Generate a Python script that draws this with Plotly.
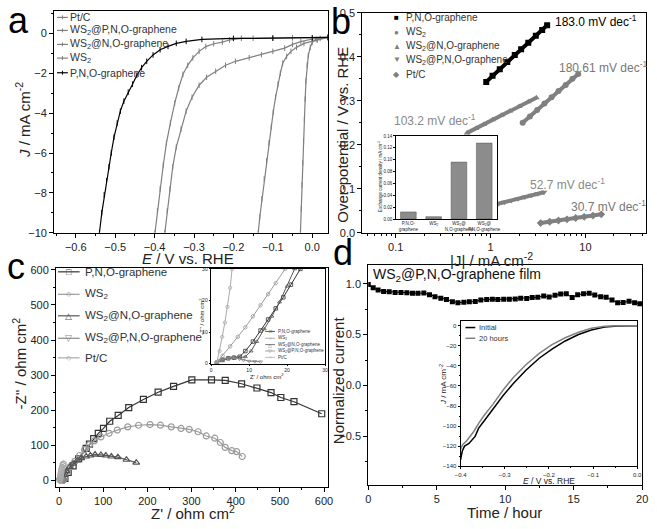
import plotly.graph_objects as go

W, H = 657, 529
FONT = "Liberation Sans, Arial, sans-serif"
GRAY = "#7f7f7f"

# ---------------- Panel a : LSV curves ----------------
a_names = ["Pt/C", "WS<sub>2</sub>@P,N,O-graphene", "WS<sub>2</sub>@N,O-graphene",
           "WS<sub>2</sub>", "P,N,O-graphene"]
a_ptc_E = [0.04, 0.02, 0.01, 0.0, -0.005, -0.01, -0.013, -0.016, -0.018, -0.02,
           -0.022, -0.024, -0.026, -0.028, -0.03]
a_ptc_J = [-0.2, -0.25, -0.3, -0.45, -0.7, -1.1, -1.6, -2.4, -3.3, -4.3,
           -5.4, -6.5, -7.6, -8.8, -10]
a_wpno_E = [0.04, 0.013, -0.021, -0.04, -0.054, -0.065, -0.075, -0.081, -0.087,
            -0.093, -0.099, -0.104, -0.11, -0.116, -0.122, -0.128, -0.133, -0.137]
a_wpno_J = [-0.2, -0.33, -0.5, -0.7, -0.9, -1.15, -1.5, -2.0, -2.55,
            -3.2, -3.95, -4.7, -5.5, -6.4, -7.3, -8.3, -9.2, -10]
a_wno_E = [0.04, -0.05, -0.1, -0.15, -0.18, -0.21, -0.228, -0.25, -0.27, -0.287,
           -0.303, -0.316, -0.328, -0.339, -0.349, -0.36, -0.37, -0.378, -0.386,
           -0.393, -0.399]
a_wno_J = [-0.2, -0.22, -0.23, -0.24, -0.25, -0.33, -0.44, -0.52, -0.66, -0.9,
           -1.23, -1.6, -2.05, -2.75, -3.5, -4.5, -5.5, -6.6, -7.8, -8.9, -10]
a_ws2_E = [0.04, 0.0, -0.029, -0.05, -0.07, -0.1, -0.129, -0.16, -0.195, -0.22,
           -0.245, -0.268, -0.287, -0.305, -0.32, -0.333, -0.345, -0.354, -0.361,
           -0.368, -0.374]
a_ws2_J = [-0.2, -0.28, -0.41, -0.55, -0.74, -0.9, -1.07, -1.22, -1.4, -1.6,
           -1.9, -2.2, -2.6, -3.2, -3.9, -4.8, -5.7, -6.7, -7.8, -8.9, -10]
a_pno_E = [0.04, 0.0, -0.1, -0.2, -0.28, -0.32, -0.345, -0.366, -0.386, -0.404,
           -0.42, -0.433, -0.445, -0.456, -0.467, -0.478, -0.487, -0.495, -0.503,
           -0.51, -0.516, -0.522, -0.528, -0.534, -0.54]
a_pno_J = [-0.2, -0.22, -0.24, -0.25, -0.3, -0.4, -0.5, -0.65, -0.82, -1.08,
           -1.4, -1.72, -2.1, -2.55, -2.95, -3.4, -3.9, -4.5, -5.2,
           -6.0, -6.7, -7.4, -8.1, -9.0, -10]

# ---------------- Panel b : Tafel plots ----------------
b_names = ["P,N,O-graphene", "WS<sub>2</sub>", "WS<sub>2</sub>@N,O-graphene",
           "WS<sub>2</sub>@P,N,O-graphene", "Pt/C"]
b_pno_J = [0.9, 1.05, 1.25, 1.5, 1.8, 2.1, 2.5, 3.0, 3.5, 3.95]
b_pno_V = [0.343, 0.357, 0.372, 0.388, 0.404, 0.417, 0.432, 0.448, 0.461, 0.472]
b_ws2_J = [2.18, 2.6, 3.1, 3.7, 4.4, 5.2, 6.2, 7.3, 8.4]
b_ws2_V = [0.25, 0.2645, 0.279, 0.294, 0.308, 0.322, 0.336, 0.350, 0.361]
b_wno_J = [0.565, 0.7, 0.85, 1.05, 1.3, 1.6, 2.0, 2.5, 3.04]
b_wno_V = [0.227, 0.237, 0.246, 0.257, 0.267, 0.277, 0.287, 0.298, 0.307]
b_wpno_J = [1.2, 1.4, 1.65, 1.95, 2.3, 2.7, 3.15, 3.65]
b_wpno_V = [0.066, 0.0696, 0.0735, 0.0774, 0.0813, 0.085, 0.0886, 0.092]
b_ptc_J = [3.37, 4.2, 5.2, 6.4, 7.9, 9.7, 12, 14.7]
b_ptc_V = [0.022, 0.025, 0.0278, 0.0306, 0.0335, 0.0362, 0.0391, 0.0418]
b_slopes = ["183.0", "180.61", "103.2", "52.7", "30.7"]
# inset: exchange current density
bi_cats = ["P,N,O-<br>graphene", "WS<sub>2</sub>", "WS<sub>2</sub>@<br>N,O-graphene",
           "WS<sub>2</sub>@<br>P,N,O-graphene"]
bi_vals = [0.012, 0.004, 0.096, 0.128]

# ---------------- Panel c : Nyquist plots ----------------
c_names = ["P,N,O-graphene", "WS<sub>2</sub>", "WS<sub>2</sub>@N,O-graphene",
           "WS<sub>2</sub>@P,N,O-graphene", "Pt/C"]
c_pno_re = [13.3, 20.7, 31.9, 44.4, 61.5, 68.9, 78.5, 88.9, 100.7, 114.8, 134, 157.8,
            191.1, 224.4, 259.3, 300.7, 345.2, 376.3, 413.3, 448.1, 480, 502.2, 531.9, 594.8]
c_pno_im = [5.6, 22.3, 40.8, 61.4, 91, 103.3, 119, 134, 147.9, 168.3, 185, 207.4,
            230.5, 251.2, 267.9, 286.4, 286.4, 284.7, 275.2, 263.2, 250.1, 236.1, 224.1, 189.8]
c_ws2_re = [13.3, 17, 24.4, 35.6, 46.7, 57.8, 68.9, 80, 94.8, 113.3, 131.9, 155.6, 180,
            206, 229.6, 254, 276.3, 294.8, 314.8, 333.3, 352.6, 365.2, 376.3, 391.1, 402.2, 414.8]
c_ws2_im = [10, 24, 38, 53.9, 70.6, 87.4, 101.3, 112.5, 123.6, 134, 143.2, 152.4, 157,
            159, 157.1, 152.4, 147.9, 145.1, 138.4, 126.4, 120, 107.7, 93.8, 84.6, 81.8, 67.8]
c_wno_re = [9.6, 11.9, 17, 24.4, 31.9, 41.5, 50.4, 61.5, 71.1, 81.5, 94.8, 105.9,
            118.5, 133.3, 152.6, 174.8]
c_wno_im = [3.6, 14.8, 26, 38, 47.4, 56.7, 63.1, 67.8, 70.6, 73.4, 72.5, 70.6,
            67.8, 66, 58.6, 50.2]
c_wpno_re = [1.5, 2.5, 3.5, 4.5, 5.5, 6.5, 7.5, 8.5, 10, 11.5, 13]
c_wpno_im = [0.2, 1.0, 1.5, 1.8, 1.9, 1.8, 1.5, 1.1, 0.8, 0.7, 0.6]
c_ptc_re = [1.5, 2.2, 2.9, 3.6, 4.3, 5.0, 5.5, 7.0, 8.5, 10.0]
c_ptc_im = [0.3, 4.0, 8.5, 13.0, 18.0, 24.0, 30.0, 37.0, 43.0, 47.0]
# inset (high-frequency region)
ci_pno_re = [1.5, 3, 4.5, 6, 7.5, 9, 11, 13, 15, 17, 19, 21, 23.5]
ci_pno_im = [0.3, 1.2, 1.7, 1.9, 2.2, 4, 7, 10.5, 14, 17.5, 21, 25, 30]
ci_ws2_re = [1.5, 3, 5, 7, 9, 11, 13, 15, 17, 19.5]
ci_ws2_im = [0.5, 2.5, 5.5, 8.5, 11.5, 15, 18.5, 22, 25.5, 30]
ci_wno_re = [1.5, 3, 4.5, 6, 7.5, 9, 10.5, 12, 14, 16, 18, 20, 22]
ci_wno_im = [0.3, 1.3, 1.8, 2.0, 1.9, 2.2, 4, 7, 11, 15, 19.5, 24.5, 30]

# ---------------- Panel d : stability ----------------
d_t = [0, 0.36, 0.72, 1.12, 1.53, 1.96, 2.39, 2.82, 3.23, 3.63, 4.06, 4.47, 4.87, 5.30,
       5.71, 6.14, 6.55, 6.98, 7.38, 7.81, 8.22, 8.65, 9.06, 9.46, 9.89, 10.3, 10.73,
       11.13, 11.57, 11.97, 12.38, 12.81, 13.21, 13.64, 14.05, 14.46, 14.89, 15.29,
       15.72, 16.13, 16.54, 16.97, 17.37, 17.8, 18.21, 18.61, 19.04, 19.45, 19.83]
d_i = [0.993, 0.961, 0.939, 0.926, 0.923, 0.916, 0.916, 0.913, 0.907, 0.907, 0.910,
       0.894, 0.874, 0.858, 0.846, 0.823, 0.813, 0.820, 0.823, 0.826, 0.842, 0.846,
       0.849, 0.846, 0.849, 0.849, 0.852, 0.858, 0.855, 0.865, 0.868, 0.881, 0.871,
       0.887, 0.900, 0.903, 0.865, 0.894, 0.903, 0.907, 0.890, 0.874, 0.868, 0.842,
       0.813, 0.817, 0.829, 0.813, 0.804]
di_init_E = [-0.4, -0.396, -0.391, -0.381, -0.367, -0.359, -0.348, -0.326, -0.304, -0.281,
             -0.252, -0.222, -0.193, -0.163, -0.133, -0.104, -0.074, -0.044, 0.0]
di_init_J = [-133.5, -124.8, -119.9, -117.3, -110.2, -102, -95.6, -82.6, -69.7, -57.7,
             -44.4, -32.4, -23.3, -15.2, -8.7, -4.2, -1.3, -0.3, 0.0]
di_20h_E = [-0.4, -0.395, -0.387, -0.37, -0.359, -0.348, -0.326, -0.304, -0.281, -0.252,
            -0.222, -0.193, -0.163, -0.133, -0.104, -0.074, -0.044, 0.0]
di_20h_J = [-123.1, -118.3, -115, -105.3, -97.2, -90.1, -77.8, -64.2, -51.8, -38.9,
            -27.5, -18.8, -12, -6.5, -2.6, -0.6, 0, 0]
di_names = ["Initial", "20 hours"]


# ---------------- helpers ----------------
def dx(l, r):
    return [l / W, r / W]


def dy(top, bot):
    return [1 - bot / H, 1 - top / H]


def axis(domain, rng, anchor, size=11, ticklen=4, minor=None, **kw):
    d = dict(domain=domain, range=rng, anchor=anchor, showline=True, linecolor="black",
             linewidth=1, mirror=True, ticks="outside", ticklen=ticklen, tickwidth=1,
             tickcolor="black", showgrid=False, zeroline=False,
             tickfont=dict(size=size, color="#222", family=FONT))
    if minor is not None:
        d["minor"] = dict(dtick=minor, ticks="outside", ticklen=max(1, ticklen / 2),
                          tickcolor="black", showgrid=False)
    d.update(kw)
    return d


ann = []
shapes = []


def T(x, y, text, size=11, color="#222", xa="center", ya="middle", angle=0, **kw):
    d = dict(x=x / W, y=1 - y / H, xref="paper", yref="paper", text=text,
             showarrow=False, xanchor=xa, yanchor=ya, textangle=angle,
             font=dict(size=size, color=color, family=FONT))
    d.update(kw)
    ann.append(d)


def L(x0, x1, y, color, width=1):
    shapes.append(dict(type="line", xref="paper", yref="paper", x0=x0 / W, x1=x1 / W,
                       y0=1 - y / H, y1=1 - y / H, line=dict(color=color, width=width)))


def V(x, y0, y1, color, width=1):
    shapes.append(dict(type="line", xref="paper", yref="paper", x0=x / W, x1=x / W,
                       y0=1 - y0 / H, y1=1 - y1 / H, line=dict(color=color, width=width)))


fig = go.Figure()

# ---- panel a traces ----
a_data = [(a_ptc_E, a_ptc_J), (a_wpno_E, a_wpno_J), (a_wno_E, a_wno_J),
          (a_ws2_E, a_ws2_J), (a_pno_E, a_pno_J)]
a_colors = [GRAY, GRAY, GRAY, GRAY, "black"]
for (e, j), c in zip(a_data, a_colors):
    fig.add_trace(go.Scatter(x=e, y=j, mode="lines+markers", xaxis="x", yaxis="y",
                             line=dict(color=c, width=1.2),
                             marker=dict(symbol="line-ns", size=4,
                                         line=dict(color=c, width=1)),
                             showlegend=False))

# ---- panel b traces ----
b_data = [(b_pno_J, b_pno_V), (b_ws2_J, b_ws2_V), (b_wno_J, b_wno_V),
          (b_wpno_J, b_wpno_V), (b_ptc_J, b_ptc_V)]
b_syms = ["square", "circle", "triangle-up", "triangle-down", "diamond"]
b_colors = ["black", "#808080", "#808080", "#808080", "#808080"]
for (x, y), s, c in zip(b_data, b_syms, b_colors):
    fig.add_trace(go.Scatter(x=x, y=y, mode="lines+markers", xaxis="x2", yaxis="y2",
                             line=dict(color=c, width=4),
                             marker=dict(symbol=s, size=6, color=c),
                             showlegend=False))
fig.add_trace(go.Bar(x=bi_cats, y=bi_vals, xaxis="x5", yaxis="y5", width=0.62,
                     marker=dict(color="#8c8c8c", line=dict(color="#555", width=0.5)),
                     showlegend=False))

# ---- panel c traces ----
c_data = [(c_pno_re, c_pno_im), (c_ws2_re, c_ws2_im), (c_wno_re, c_wno_im),
          (c_wpno_re, c_wpno_im), (c_ptc_re, c_ptc_im)]
c_syms = ["square-open", "circle-open", "triangle-up-open", "triangle-down-open",
          "hexagon-open"]
c_colors = ["#333333", "#9a9a9a", "#555555", "#888888", "#aaaaaa"]
for (x, y), s, c in zip(c_data, c_syms, c_colors):
    fig.add_trace(go.Scatter(x=x, y=y, mode="lines+markers", xaxis="x3", yaxis="y3",
                             line=dict(color=c, width=1.2),
                             marker=dict(symbol=s, size=6, color=c, line=dict(width=1.2)),
                             showlegend=False))
ci_data = [(ci_pno_re, ci_pno_im), (ci_ws2_re, ci_ws2_im), (ci_wno_re, ci_wno_im),
           (c_wpno_re, c_wpno_im), (c_ptc_re, c_ptc_im)]
for (x, y), s, c in zip(ci_data, c_syms, c_colors):
    fig.add_trace(go.Scatter(x=x, y=y, mode="lines+markers", xaxis="x6", yaxis="y6",
                             line=dict(color=c, width=1),
                             marker=dict(symbol=s, size=3.5, color=c, line=dict(width=0.8)),
                             showlegend=False, cliponaxis=True))

# ---- panel d traces ----
fig.add_trace(go.Scatter(x=d_t, y=d_i, mode="lines+markers", xaxis="x4", yaxis="y4",
                         line=dict(color="black", width=1),
                         marker=dict(symbol="square", size=5, color="black"),
                         showlegend=False))
fig.add_trace(go.Scatter(x=di_init_E, y=di_init_J, mode="lines", xaxis="x7", yaxis="y7",
                         line=dict(color="black", width=1.5), showlegend=False))
fig.add_trace(go.Scatter(x=di_20h_E, y=di_20h_J, mode="lines", xaxis="x7", yaxis="y7",
                         line=dict(color="#808080", width=1.5), showlegend=False))

# ---------------- axes ----------------
layout_axes = dict(
    xaxis=axis(dx(49, 328), [-0.655, 0.04], "y", dtick=0.1, tick0=0, tickformat=".1f",
               minor=0.05),
    yaxis=axis(dy(5, 232), [-10, 1.13], "x", tickvals=[-10, -8, -6, -4, -2, 0], minor=1),
    xaxis2=axis(dx(363, 652), [-1.352, 1.64], "y2", type="log", tickvals=[0.1, 1, 10],
                ticktext=["0.1", "1", "10"], minor="D1"),
    yaxis2=axis(dy(7, 232), [0, 0.5], "x2", dtick=0.1, tickformat=".1f", minor=0.05),
    xaxis3=axis(dx(51, 328), [-6.7, 609], "y3", dtick=100, minor=50),
    yaxis3=axis(dy(268, 492), [-18.7, 605.6], "x3", dtick=100, minor=50),
    xaxis4=axis(dx(369, 648), [0, 20], "y4", dtick=5, minor=2.5),
    yaxis4=axis(dy(265, 490), [-0.98, 1.186], "x4", tickvals=[-0.5, 0.0, 0.5, 1.0],
                tickformat=".1f", minor=0.25),
    xaxis5=axis(dx(397, 500), None, "y5", size=4.5, ticklen=0, ticks="", tickangle=0),
    yaxis5=axis(dy(133, 218), [0, 0.14], "x5", size=4.5, ticklen=1.5,
                tickvals=[0, 0.02, 0.04, 0.06, 0.08, 0.10, 0.12, 0.14], tickformat=".2f"),
    xaxis6=axis(dx(209, 325), [0, 30], "y6", size=5, ticklen=1.5, dtick=10),
    yaxis6=axis(dy(269, 366), [0, 30], "x6", size=5, ticklen=1.5, dtick=10),
    xaxis7=axis(dx(463, 643), [-0.4, 0.0], "y7", size=6, ticklen=2, dtick=0.1,
                tickformat=".1f", minor=0.05),
    yaxis7=axis(dy(322, 471), [-140, 5], "x7", size=6, ticklen=2, dtick=20, minor=10),
)
layout_axes["xaxis5"].pop("range")

# ---------------- text ----------------
# panel letters (explicit box heights keep the boxes inside the figure)
T(13, 14, "a", 36, "black", height=26, valign="middle")
T(341, 16, "b", 36, "black", height=31, valign="middle")
T(10, 267, "c", 36, "black")
T(343, 252, "d", 36, "black")

# axis titles
T(185, 258, "<i>E</i> / V vs. RHE", 15)
T(17, 117, "<i>J</i> / mA cm<sup>-2</sup>", 15, angle=-90)
T(495, 259, "|J| / mA cm<sup>-2</sup>", 15)
T(342, 132, "Over-potential / V vs. RHE", 15, angle=-90)
T(190, 518, "Z' / ohm cm<sup>2</sup>", 15)
T(14, 366, "-Z'' / ohm cm<sup>2</sup>", 15, angle=-90)
T(508, 518, "Time / hour", 15)
T(338, 383, "Normalized current", 15, angle=-90)

# panel a legend
a_leg_y = [11.7, 25, 39.3, 53.3, 68.3]
for name, yy, c in zip(a_names, a_leg_y, a_colors):
    L(52, 63, yy, c, 1.2)
    V(57.5, yy - 2, yy + 2, c, 1)
    T(63, yy, name, 10.5, "#333", xa="left")

# panel b legend
b_glyphs = ["■", "●", "▲", "▼", "◆"]
b_leg_y = [12, 27, 41, 55, 70]
for name, g, yy, c in zip(b_names, b_glyphs, b_leg_y, b_colors):
    T(398, yy, g, 8, c)
    T(405, yy, name, 10, "#333", xa="left")

# Tafel slope labels
b_lab_pos = [(557, 15), (561, 62), (393, 117), (532, 182), (573, 205)]
b_lab_col = ["black", "#777", "#8a8a8a", "#8a8a8a", "#777"]
for s, (xx, yy), c in zip(b_slopes, b_lab_pos, b_lab_col):
    T(xx, yy, s + " mV dec<sup>-1</sup>", 12, c, xa="left")

# inset b y title
T(381, 175, "Exchange current density / mA cm<sup>-2</sup>", 4.5, angle=-90)

# panel c legend
c_glyphs = ["□", "○", "△", "▽", "○"]
c_leg_y = [272, 295, 317, 340, 360]
for name, g, yy, c in zip(c_names, c_glyphs, c_leg_y, c_colors):
    L(53, 75, yy, c, 1.2)
    T(64, yy, g, 9, c)
    T(78, yy, name, 11.5, "#333", xa="left")

# panel c inset legend + titles
ci_leg_y = [333, 340, 346.5, 353, 359.5]
for name, g, yy, c in zip(c_names, c_glyphs, ci_leg_y, c_colors):
    L(264, 274, yy, c, 0.8)
    T(269, yy, g, 5, c)
    T(275, yy, name, 4.5, "#333", xa="left")
T(199, 318, "-Z'' / ohm cm<sup>2</sup>", 6, angle=-90)
T(266, 379, "Z' / ohm cm<sup>2</sup>", 6)

# panel d title and inset
T(372, 275, "WS<sub>2</sub>@P,N,O-graphene film", 14, "#111", xa="left")
L(468, 478, 329, "black", 1.5)
L(468, 478, 340, "#808080", 1.5)
T(480, 329, di_names[0], 7.5, "#333", xa="left")
T(480, 340, di_names[1], 7.5, "#333", xa="left")
T(553, 486, "<i>E</i> / V vs. RHE", 8.5)
T(445, 387, "<i>J</i> / mA cm<sup>-2</sup>", 8, angle=-90)

fig.update_layout(
    width=W, height=H, autosize=False,
    margin=dict(l=0, r=0, t=0, b=0, pad=0),
    paper_bgcolor="white", plot_bgcolor="white",
    font=dict(family=FONT, color="#222"),
    showlegend=False, bargap=0.38,
    annotations=ann, shapes=shapes,
    **layout_axes,
)

fig.write_html("out.html", config={"displayModeBar": False},
               post_script="document.body.style.margin='0px';")
